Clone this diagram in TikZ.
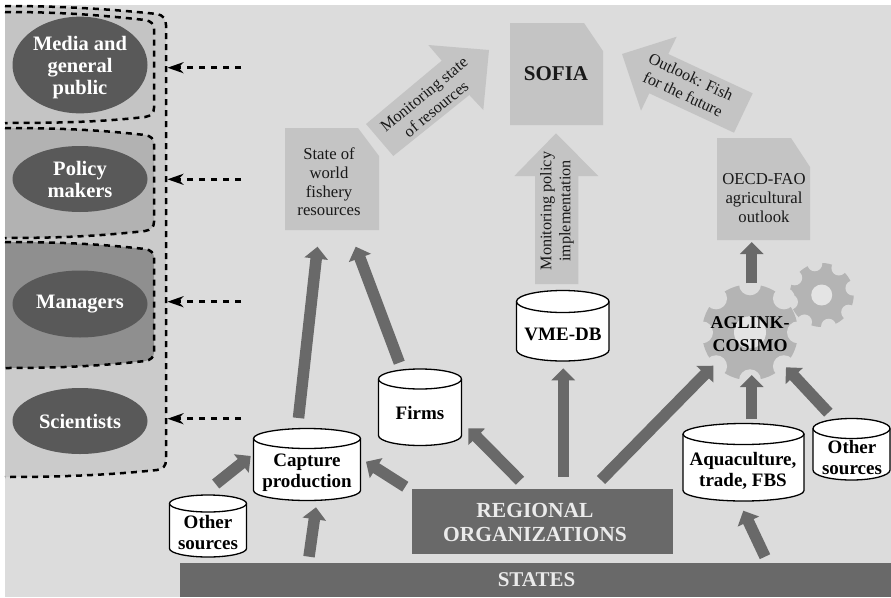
\documentclass[tikz,border=0pt]{standalone}
\usepackage{fontspec}
\setmainfont{Liberation Serif}
\usetikzlibrary{arrows.meta,shapes.geometric}
\definecolor{bgc}{HTML}{DCDCDC}
\definecolor{zone}{HTML}{CBCBCB}
\definecolor{pmedia}{HTML}{C4C4C4}
\definecolor{ppolicy}{HTML}{B2B2B2}
\definecolor{pman}{HTML}{8F8F8F}
\definecolor{ell}{HTML}{595959}
\definecolor{darkc}{HTML}{696969}
\definecolor{docc}{HTML}{C4C4C4}
\definecolor{gearc}{HTML}{B4B4B4}
\definecolor{holec}{HTML}{E4E4E4}
\tikzset{
  x=1pt,y=-1pt,
  panel/.style={draw=black,line width=2.5pt,dash pattern=on 6pt off 5pt},
  audience/.style={ellipse,fill=ell,text=white,inner sep=0pt,minimum width=135pt,align=center,
     font=\fontsize{20.5}{22}\selectfont\bfseries},
  look/.style={draw=black,line width=2.5pt,dash pattern=on 6pt off 6pt,
     -{Stealth[length=16pt,width=11pt,inset=5pt]}},
  flow/.style={draw=darkc,line width=11.5pt,-{Triangle[length=12pt,width=23pt]}},
  bigarrow/.style={fill=docc},
  doc/.style={fill=docc},
  doctext/.style={inner sep=0pt,align=center,text=black!90,font=\fontsize{16.7}{18.6}\selectfont},
  arrowtext/.style={inner sep=0pt,align=center,text=black!90,font=\fontsize{16.2}{19}\selectfont},
  dbtext/.style={inner sep=0pt,align=center,text=black,font=\fontsize{19}{21}\selectfont\bfseries},
  geartext/.style={inner sep=0pt,align=center,text=black,font=\fontsize{18}{23.5}\selectfont\bfseries},
  whitetext/.style={inner sep=0pt,align=center,text=white!92!black,font=\fontsize{21.5}{24}\selectfont\bfseries},
  cyl/.style={draw=black,line width=1.3pt,fill=white},
}
% x1 x2 ytop ybottom ry
\newcommand{\dbcyl}[5]{%
  \pgfmathsetmacro{\rxx}{(#2-#1)/2}%
  \pgfmathsetmacro{\cxx}{(#1+#2)/2}%
  \pgfmathsetmacro{\yaa}{#3+#5}%
  \pgfmathsetmacro{\ybb}{#4-#5}%
  \draw[cyl] (#1,\yaa) -- (#1,\ybb) arc[start angle=180,end angle=0,x radius=\rxx,y radius=#5] -- (#2,\yaa);
  \draw[cyl] (\cxx,\yaa) ellipse[x radius=\rxx,y radius=#5];
}
% cx cy R notchR hole angle-offset
\newcommand{\gearshape}[6]{%
  \fill[gearc] (#1,#2) circle[radius=#3];
  \foreach \aa in {0,45,...,315}{\fill[bgc] ([shift={(\aa+#6:#3)}]#1,#2) circle[radius=#4];}
  \fill[holec] (#1,#2) circle[radius=#5];
}
\begin{document}
\begin{tikzpicture}
\useasboundingbox (0,0) rectangle (891,597);
\fill[white] (0,0) rectangle (891,597);
\fill[bgc] (5,5) rectangle (891,597);

% audience panels
\path[fill=zone] (5,6) .. controls (60,6) and (110,9) .. (157,14) .. controls (163,15) and (166,19) .. (166,25)
  -- (166,460) .. controls (166,466) and (163,469) .. (157,470) .. controls (110,475) and (60,477) .. (5,477) -- cycle;
\path[fill=pmedia] (5,12) .. controls (60,12) and (100,15) .. (145,20) .. controls (151,21) and (154,24) .. (154,29)
  -- (154,108) .. controls (154,113) and (151,116) .. (145,117) .. controls (100,122) and (60,123) .. (5,123) -- cycle;
\path[fill=ppolicy] (5,128) .. controls (60,128) and (100,130) .. (145,135) .. controls (151,136) and (154,139) .. (154,144)
  -- (154,222) .. controls (154,227) and (151,230) .. (145,231) .. controls (100,236) and (60,238) .. (5,238) -- cycle;
\path[fill=pman] (5,242) .. controls (60,242) and (100,244) .. (145,249) .. controls (151,250) and (154,253) .. (154,258)
  -- (154,352) .. controls (154,357) and (151,360) .. (145,361) .. controls (100,366) and (60,368) .. (5,368) -- cycle;
\draw[panel] (5,6) .. controls (60,6) and (110,9) .. (157,14) .. controls (163,15) and (166,19) .. (166,25)
  -- (166,460) .. controls (166,466) and (163,469) .. (157,470) .. controls (110,475) and (60,477) .. (5,477);
\draw[panel] (5,12) .. controls (60,12) and (100,15) .. (145,20) .. controls (151,21) and (154,24) .. (154,29)
  -- (154,108) .. controls (154,113) and (151,116) .. (145,117) .. controls (100,122) and (60,123) .. (5,123);
\draw[panel] (5,128) .. controls (60,128) and (100,130) .. (145,135) .. controls (151,136) and (154,139) .. (154,144)
  -- (154,222) .. controls (154,227) and (151,230) .. (145,231) .. controls (100,236) and (60,238) .. (5,238);
\draw[panel] (5,242) .. controls (60,242) and (100,244) .. (145,249) .. controls (151,250) and (154,253) .. (154,258)
  -- (154,352) .. controls (154,357) and (151,360) .. (145,361) .. controls (100,366) and (60,368) .. (5,368);

\node[audience,minimum height=84pt] (media) at (80,65) {\rule{0pt}{20pt}Media and\\general\\public};
\node[audience,minimum height=66pt] (policy) at (80,179) {Policy\\makers};
\node[audience,minimum height=67pt] (managers) at (80,304) {Managers};
\node[audience,minimum height=66pt] (scientists) at (80,421) {Scientists};

\coordinate (ma) at (241,67.7); \coordinate (mb) at (167.5,67.7);
\coordinate (pa) at (241,179.3); \coordinate (pb) at (167.5,179.3);
\coordinate (ga) at (241,301.7); \coordinate (gb) at (167.5,301.7);
\coordinate (sa) at (241,418.7); \coordinate (sb) at (167.5,418.7);
\draw[look] (ma) -- (mb);
\draw[look] (pa) -- (pb);
\draw[look] (ga) -- (gb);
\draw[look] (sa) -- (sb);

% documents
\fill[doc] (510,23) -- (584,23) -- (603,51) -- (603,125) -- (510,125) -- cycle;
\node[inner sep=0pt,font=\fontsize{21}{24}\selectfont\bfseries,text=black!90] (sofia) at (556,74) {SOFIA};
\fill[doc] (285,128) -- (358,128) -- (379,156) -- (379,230) -- (285,230) -- cycle;
\node[doctext] (state) at (329,182) {State of\\world\\fishery\\resources};
\fill[doc] (717,138) -- (791,138) -- (810,167) -- (810,240) -- (717,240) -- cycle;
\node[doctext] (oecd) at (764,198) {OECD-FAO\\agricultural\\outlook};

% big light arrows
\fill[bigarrow] (366,124) -- (441.7,60.7) -- (428.3,45) -- (489,50) -- (483.3,110) -- (469.3,95) -- (393.3,156) -- cycle;
\node[arrowtext,rotate=39.5] (monstate) at (430,101.7) {Monitoring state\\of resources};
\fill[bigarrow] (535,284) -- (535,176) -- (514.3,176) -- (556,133.3) -- (598.3,176) -- (578.3,176) -- (578.3,284) -- cycle;
\node[arrowtext,rotate=90] (monpol) at (557,211) {Monitoring policy\\implementation};
\fill[bigarrow] (752.7,93.3) -- (668.3,54) -- (676.7,36.7) -- (622,54) -- (641,110.7) -- (649.3,93.3) -- (734,132.7) -- cycle;
\node[arrowtext,rotate=-25] (outlook) at (687,85.5) {Outlook: Fish\\for the future};

% bars
\fill[darkc] (412,489) rectangle (673,554);
\fill[darkc] (180,563.3) rectangle (891,597);
\node[whitetext] (reg) at (535,522) {REGIONAL\\ORGANIZATIONS};
\node[whitetext,font=\fontsize{21}{24}\selectfont\bfseries] (states) at (536.5,580) {STATES};

% gears
\gearshape{821.7}{295}{32}{7.5}{10.5}{32.5}
\gearshape{750}{332.3}{48}{11}{16}{0}
\node[geartext] (aglink) at (750,334) {AGLINK-\\COSIMO};

% databases
\dbcyl{253.5}{360.5}{428.5}{500.5}{10}
\node[dbtext] (cap) at (307,473) {Capture\\production};
\dbcyl{169.5}{246.5}{495}{557}{8.5}
\node[dbtext] (other1) at (208,533) {Other\\sources};
\dbcyl{378.5}{461.5}{369}{445.5}{10}
\node[dbtext] (firms) at (420,413) {Firms};
\dbcyl{516.5}{609}{290.5}{361}{11}
\node[dbtext] (vme) at (563,334) {VME-DB};
\dbcyl{683}{804}{423.5}{501}{10.5}
\node[dbtext] (aqua) at (743,471) {Aquaculture,\\trade, FBS};
\dbcyl{813}{890}{418.5}{480}{10}
\node[dbtext] (other2) at (852,458) {Other\\sources};

% flows
\draw[flow] ([shift={(7.7,-49)}]other1.center) -- ([shift={(-56.3,-17)}]cap.center);
\draw[flow] ([shift={(-8.5,-55)}]cap.center) -- ([shift={(-11.5,64.7)}]state.center);
\draw[flow] ([shift={(-20.7,-50.3)}]firms.center) -- ([shift={(26.7,64.7)}]state.center);
\draw[flow] ([shift={(-15,-41.3)}]reg.center) -- ([shift={(48.3,15.3)}]firms.center);
\draw[flow] ([shift={(-129.7,-35.3)}]reg.center) -- ([shift={(59,-11.3)}]cap.center);
\draw[flow] ([shift={(-227.5,-23.3)}]states.center) -- ([shift={(9,34.3)}]cap.center);
\draw[flow] ([shift={(28.3,-45.3)}]reg.center) -- ([shift={(0.3,34.3)}]vme.center);
\draw[flow] ([shift={(66,-42)}]reg.center) -- ([shift={(-36.7,31.7)}]aglink.center);
\draw[flow] ([shift={(8.7,-51.7)}]aqua.center) -- ([shift={(1.7,41)}]aglink.center);
\draw[flow] ([shift={(-23.7,-45.3)}]other2.center) -- ([shift={(36,33.3)}]aglink.center);
\draw[flow] ([shift={(228.5,-23.3)}]states.center) -- ([shift={(0.3,39.7)}]aqua.center);
\draw[flow] ([shift={(1.7,-50.7)}]aglink.center) -- ([shift={(-12.3,44)}]oecd.center);
\end{tikzpicture}
\end{document}
